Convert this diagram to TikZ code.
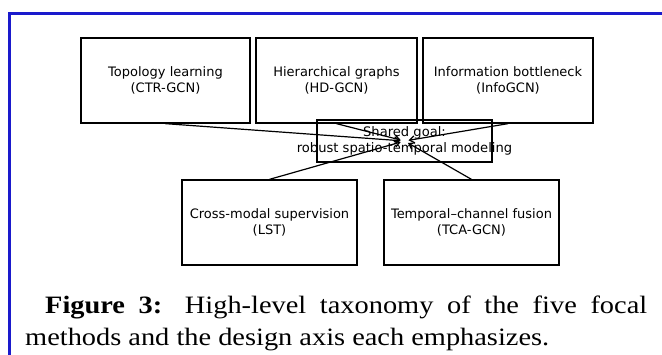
\documentclass[tikz,border=0pt]{standalone}
\usepackage{fontspec}
\setmainfont{Liberation Serif}[FakeStretch=1.135]
\newfontfamily\boxfont{DejaVu Sans}
\usetikzlibrary{arrows.meta}
\definecolor{frameblue}{RGB}{26,26,204}
\begin{document}
\begin{tikzpicture}[x=1pt,y=-1pt,
  box/.style={draw, line width=1.3pt, minimum height=85pt, inner sep=0pt,
    font=\boxfont\fontsize{13}{15.5}\selectfont, align=center},
  goalbox/.style={draw, line width=1.3pt, minimum width=175pt, minimum height=42pt, inner sep=0pt},
  goaltxt/.style={inner sep=0pt, font=\boxfont\fontsize{13.1}{15.8}\selectfont, align=center},
  flow/.style={-{Straight Barb[length=5pt,width=7pt]}, line width=1.2pt, shorten >=4pt},
  frameline/.style={draw=frameblue, line width=3pt},
  captxt/.style={inner sep=0pt, font=\fontsize{25}{32}\selectfont}]
\useasboundingbox (0,0) rectangle (662,354);
\clip (0,0) rectangle (662,354);
\fill[white] (0,0) rectangle (662,354);
\draw[frameline] (9.5,360) -- (9.5,13) -- (670,13);

\node[box, minimum width=169pt] (b1) at (165.5,80.5) {Topology learning\\(CTR-GCN)};
\node[box, minimum width=161pt] (b2) at (336.5,80.5) {Hierarchical graphs\\(HD-GCN)};
\node[box, minimum width=170pt] (b3) at (508,80.5) {Information bottleneck\\(InfoGCN)};
\node[goalbox] (goal) at (404.5,141) {};
\node[goaltxt] (goaltext) at (goal.center) {Shared goal:\\robust spatio-temporal modeling};
\node[box, minimum width=175pt] (b4) at (269.5,222.5) {Cross-modal supervision\\(LST)};
\node[box, minimum width=175pt] (b5) at (471.5,222.5) {Temporal–channel fusion\\(TCA-GCN)};

\draw[flow] (b1.south) -- (goal.center);
\draw[flow] (b2.south) -- (goal.center);
\draw[flow] (b3.south) -- (goal.center);
\draw[flow] (b4.north) -- (goal.center);
\draw[flow] (b5.north) -- (goal.center);

\node[captxt, anchor=base west] (cap1) at (45,313) {\makebox[602pt][s]{\textbf{Figure 3:} High-level taxonomy of the five focal}};
\node[captxt, anchor=base west] (cap2) at (25,345) {methods and the design axis each emphasizes.};
\end{tikzpicture}
\end{document}
